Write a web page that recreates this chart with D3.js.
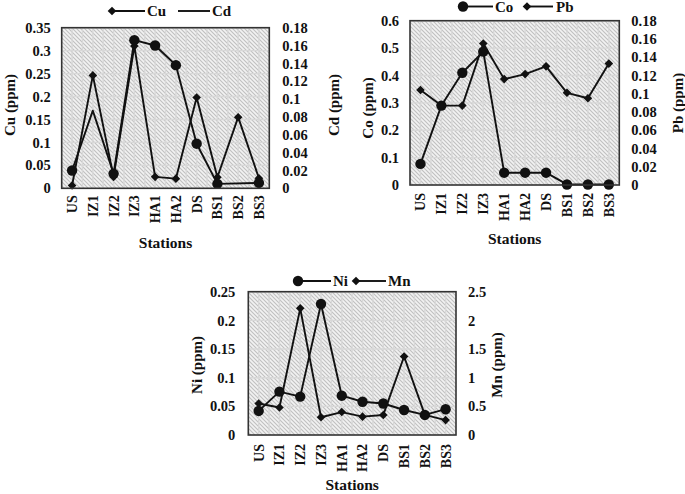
<!DOCTYPE html>
<html><head><meta charset="utf-8">
<script src="https://cdn.jsdelivr.net/npm/d3@7"></script>
<style>
html,body{margin:0;padding:0;background:#fff;}
svg{display:block;font-family:"Liberation Serif","Times New Roman",serif;font-weight:bold;}
</style></head>
<body>
<svg id="chart" width="685" height="494"></svg>
<script>
// ---------- data ----------
const stations = ["US","IZ1","IZ2","IZ3","HA1","HA2","DS","BS1","BS2","BS3"];

const cu = [0.006, 0.246, 0.025, 0.31, 0.025, 0.021, 0.198, 0.024, 0.155, 0.022];
const cd = [0.020, 0.087, 0.0165, 0.166, 0.160, 0.138, 0.050, 0.005, null, 0.006];
const cdUnmarked = ["IZ1"];
const cuTicks = [0, 0.05, 0.1, 0.15, 0.2, 0.25, 0.3, 0.35];
const cdTicks = [0, 0.02, 0.04, 0.06, 0.08, 0.1, 0.12, 0.14, 0.16, 0.18];

const co = [0.077, 0.29, 0.41, 0.487, 0.045, 0.045, 0.045, 0.002, 0.002, 0.002];
const pb = [0.104, 0.087, 0.087, 0.155, 0.116, 0.1215, 0.130, 0.101, 0.095, 0.133];
const coTicks = [0, 0.1, 0.2, 0.3, 0.4, 0.5, 0.6];
const pbTicks = [0, 0.02, 0.04, 0.06, 0.08, 0.1, 0.12, 0.14, 0.16, 0.18];

const ni = [0.042, 0.0756, 0.067, 0.2286, 0.0686, 0.058, 0.055, 0.0436, 0.035, 0.045];
const mn = [0.55, 0.48, 2.21, 0.31, 0.40, 0.32, 0.35, 1.37, 0.35, 0.26];
const niTicks = [0, 0.05, 0.1, 0.15, 0.2, 0.25];
const mnTicks = [0, 0.5, 1, 1.5, 2, 2.5];

// ---------- drawing ----------
const svg = d3.select("#chart");
const defs = svg.append("defs");
const pat = defs.append("pattern").attr("id","hatch").attr("patternUnits","userSpaceOnUse")
  .attr("width",4).attr("height",4);
pat.append("rect").attr("width",4).attr("height",4).attr("fill","#f2f2f2");
pat.append("path").attr("d","M-1,-1L5,5M-1,3L1,5M3,-1L5,1")
  .attr("stroke","#c0c0c0").attr("stroke-width",1.1);

const INK = "#111";
function diamondPath(r){ return `M0,${-r}L${r},0L0,${r}L${-r},0Z`; }

function drawMarker(g, shape, x, y){
  if(shape === "circle"){
    g.append("circle").attr("cx",x).attr("cy",y).attr("r",5.2).attr("fill",INK);
  } else if(shape === "diamond"){
    g.append("path").attr("d",diamondPath(4.3)).attr("transform",`translate(${x},${y})`).attr("fill",INK);
  }
}

function panel(cfg){
  const g = svg.append("g");
  const x = d3.scaleBand().domain(stations).range([cfg.left, cfg.right]);
  const yL = d3.scaleLinear().domain([0, d3.max(cfg.lTicks)]).range([cfg.bottom, cfg.top]);
  const yR = d3.scaleLinear().domain([0, d3.max(cfg.rTicks)]).range([cfg.bottom, cfg.top]);

  g.append("rect").attr("x",cfg.left).attr("y",cfg.top)
    .attr("width",cfg.right-cfg.left).attr("height",cfg.bottom-cfg.top)
    .attr("fill","url(#hatch)");
  const bw = x.bandwidth();
  const vx = [];
  stations.forEach(s => { vx.push(x(s)); vx.push(x(s)+bw/2); });
  g.selectAll(null).data(vx.slice(1)).join("line")
    .attr("x1",d=>d).attr("x2",d=>d).attr("y1",cfg.top).attr("y2",cfg.bottom)
    .attr("stroke","#d8d8d8").attr("stroke-width",1.4);
  g.selectAll(null).data(cfg.lTicks.slice(1)).join("line")
    .attr("x1",cfg.left).attr("x2",cfg.right).attr("y1",d=>yL(d)).attr("y2",d=>yL(d))
    .attr("stroke","#d8d8d8").attr("stroke-width",1.4);

  const cx = s => x(s) + bw/2;
  cfg.series.forEach(se => {
    const y = se.axis === "L" ? yL : yR;
    const pts = stations.map((s,i)=>({s, v: se.values[i]})).filter(p => p.v !== null);
    g.append("path").datum(pts)
      .attr("d", d3.line().x(p=>cx(p.s)).y(p=>y(p.v)))
      .attr("fill","none").attr("stroke",INK).attr("stroke-width",1.9).attr("stroke-linejoin","round");
    pts.forEach(p => {
      if(se.skip && se.skip.includes(p.s)) return;
      drawMarker(g, se.marker, cx(p.s), y(p.v));
    });
  });

  g.append("rect").attr("x",cfg.left).attr("y",cfg.top)
    .attr("width",cfg.right-cfg.left).attr("height",cfg.bottom-cfg.top)
    .attr("fill","none").attr("stroke","#333").attr("stroke-width",1.6);

  const axL = g.append("g").attr("transform",`translate(${cfg.left},0)`)
    .call(d3.axisLeft(yL).tickValues(cfg.lTicks).tickFormat(d=>String(d)).tickSize(0).tickPadding(cfg.lPad));
  const axR = g.append("g").attr("transform",`translate(${cfg.right},0)`)
    .call(d3.axisRight(yR).tickValues(cfg.rTicks).tickFormat(d=>String(d)).tickSize(0).tickPadding(cfg.rPad));
  [axL, axR].forEach(a => {
    a.select(".domain").remove();
    a.selectAll("text").attr("font-size",14.5).attr("font-family","Liberation Serif").attr("font-weight","bold").attr("fill",INK);
  });

  const axB = g.append("g").attr("transform",`translate(0,${cfg.bottom})`)
    .call(d3.axisBottom(x).tickSize(0).tickPadding(0));
  axB.select(".domain").remove();
  axB.selectAll("text")
    .attr("font-size",14).attr("font-family","Liberation Serif").attr("font-weight","bold").attr("fill",INK)
    .attr("text-anchor","end").attr("dy","0.35em").attr("y",0).attr("x",0)
    .attr("transform",`translate(0,${cfg.catGap}) rotate(-90)`);

  const title = (tx, ty, txt, rot, size) => g.append("text")
    .attr("transform",`translate(${tx},${ty})${rot?" rotate(-90)":""}`)
    .attr("text-anchor","middle").attr("dy","0.35em").attr("font-size",size).attr("fill",INK).text(txt);
  title(cfg.lTitle[0], cfg.lTitle[1], cfg.lTitle[2], true, 15);
  title(cfg.rTitle[0], cfg.rTitle[1], cfg.rTitle[2], true, 15);
  title((cfg.left+cfg.right)/2, cfg.xTitleY, "Stations", false, 15.5);

  cfg.legend.forEach(it => {
    g.append("line").attr("x1",it.x1).attr("x2",it.x2).attr("y1",cfg.legY).attr("y2",cfg.legY)
      .attr("stroke",INK).attr("stroke-width",1.9);
    if(it.marker) drawMarker(g, it.marker, it.x1, cfg.legY);
    g.append("text").attr("x",it.tx).attr("y",cfg.legY).attr("dy","0.35em")
      .attr("font-size",15).attr("fill",INK).text(it.label);
  });
}

panel({
  left:61.7, right:269.3, top:27.7, bottom:188.3,
  lTicks: cuTicks, rTicks: cdTicks, lPad:11, rPad:13, catGap:7,
  series:[
    {values: cu, axis:"L", marker:"diamond"},
    {values: cd, axis:"R", marker:"circle", skip: cdUnmarked}
  ],
  lTitle:[10,105,"Cu (ppm)"], rTitle:[334,105,"Cd (ppm)"], xTitleY:243,
  legY:11,
  legend:[{x1:112,x2:145,tx:147,label:"Cu",marker:"diamond"},{x1:178,x2:210,tx:212,label:"Cd"}]
});

panel({
  left:410, right:619.3, top:20.7, bottom:185,
  lTicks: coTicks, rTicks: pbTicks, lPad:11, rPad:12, catGap:8,
  series:[
    {values: co, axis:"L", marker:"circle"},
    {values: pb, axis:"R", marker:"diamond"}
  ],
  lTitle:[368,108,"Co (ppm)"], rTitle:[678,103,"Pb (ppm)"], xTitleY:239,
  legY:6.5,
  legend:[{x1:463,x2:493,tx:495,label:"Co",marker:"circle"},{x1:527,x2:553,tx:556,label:"Pb",marker:"diamond"}]
});

panel({
  left:248.3, right:456, top:291.7, bottom:435,
  lTicks: niTicks, rTicks: mnTicks, lPad:13, rPad:12, catGap:9,
  series:[
    {values: ni, axis:"L", marker:"circle"},
    {values: mn, axis:"R", marker:"diamond"}
  ],
  lTitle:[197,365,"Ni (ppm)"], rTitle:[497,365,"Mn (ppm)"], xTitleY:485,
  legY:281,
  legend:[{x1:298,x2:331,tx:333,label:"Ni",marker:"circle"},{x1:356,x2:386,tx:388,label:"Mn",marker:"diamond"}]
});
</script>
</body></html>
